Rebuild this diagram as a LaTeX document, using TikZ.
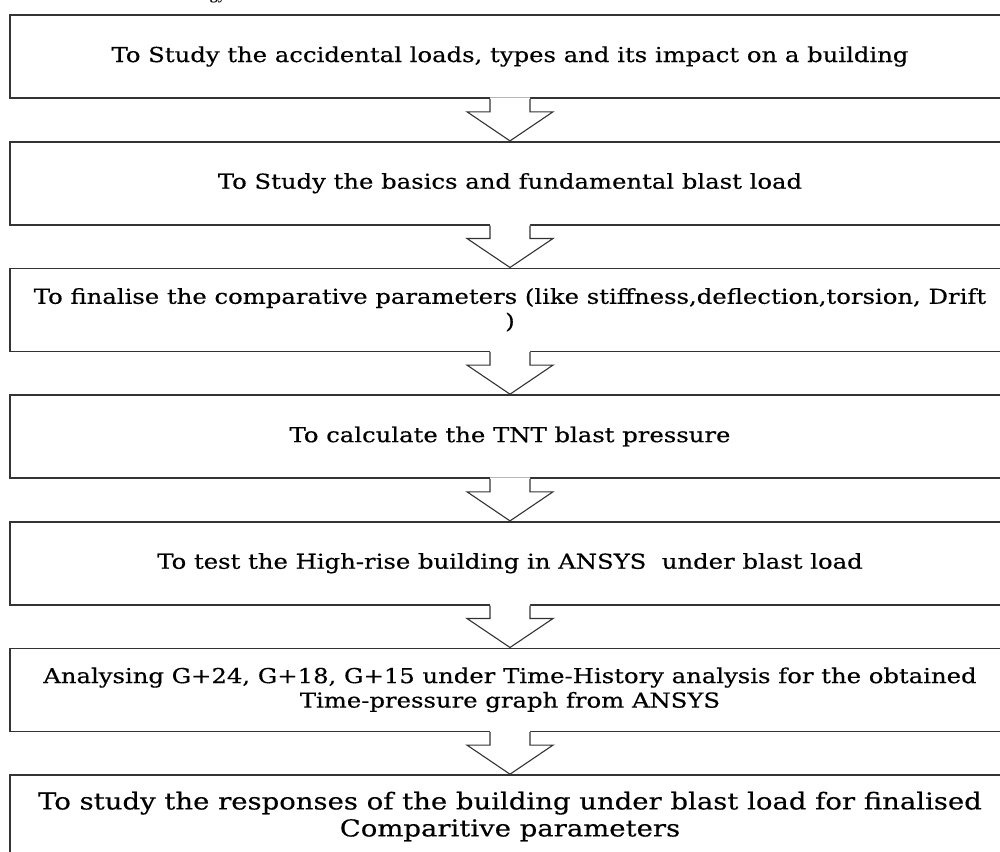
\documentclass[tikz,border=0pt]{standalone}
\usepackage{fontspec}
\setmainfont{DejaVu Serif}[FakeStretch=1.18,FakeBold=0.4]
\newfontfamily\headfont{Liberation Serif}
\usetikzlibrary{calc}
\newcommand\blockarr[2]{%
  \fill[white] ($(#1.south)+(-20,-1.5)$) -- ($(#1.south)+(-20,13)$) -- ($(#1.south)+(-43,13)$) -- (#2.north) -- ($(#1.south)+(43,13)$) -- ($(#1.south)+(20,13)$) -- ($(#1.south)+(20,-1.5)$) -- cycle;
  \draw[arrowline] ($(#1.south)+(-20,0)$) -- ($(#1.south)+(-20,13)$) -- ($(#1.south)+(-43,13)$) -- (#2.north) -- ($(#1.south)+(43,13)$) -- ($(#1.south)+(20,13)$) -- ($(#1.south)+(20,0)$);}
\begin{document}
\begin{tikzpicture}[x=1pt,y=-1pt,
  stepbox/.style={draw=black!80, line width=1.6pt, minimum width=1000pt, minimum height=83pt,
    inner sep=0pt, align=center, text=black, font=\fontsize{20.6}{24.5}\selectfont},
  bigbox/.style={stepbox, font=\fontsize{23.3}{27}\selectfont},
  arrowline/.style={draw=black!80, line width=1.1pt, line join=miter},
  headtext/.style={font=\headfont\bfseries\fontsize{16}{18}\selectfont, inner sep=0pt, anchor=base east}]
\useasboundingbox (0,0) rectangle (1000,851);
\clip (0,0) rectangle (1000,851);
\node[headtext] (head) at (226,-0.5) {Methodology};
\node[stepbox] (b1) at (510,56.5) {To Study the accidental loads, types and its impact on a building};
\node[stepbox] (b2) at (510,183.2) {To Study the basics and fundamental blast load};
\node[stepbox] (b3) at (510,309.8) {To finalise the comparative parameters (like stiffness,deflection,torsion, Drift\\)};
\node[stepbox] (b4) at (510,436.5) {To calculate the TNT blast pressure};
\node[stepbox] (b5) at (510,563.2) {To test the High-rise building in ANSYS~ under blast load};
\node[stepbox] (b6) at (510,689.8) {Analysing G+24, G+18, G+15 under Time-History analysis for the obtained\\Time-pressure graph from ANSYS};
\node[bigbox] (b7) at (510,816.5) {To study the responses of the building under blast load for finalised\\Comparitive parameters};
\blockarr{b1}{b2}
\blockarr{b2}{b3}
\blockarr{b3}{b4}
\blockarr{b4}{b5}
\blockarr{b5}{b6}
\blockarr{b6}{b7}
\end{tikzpicture}
\end{document}
